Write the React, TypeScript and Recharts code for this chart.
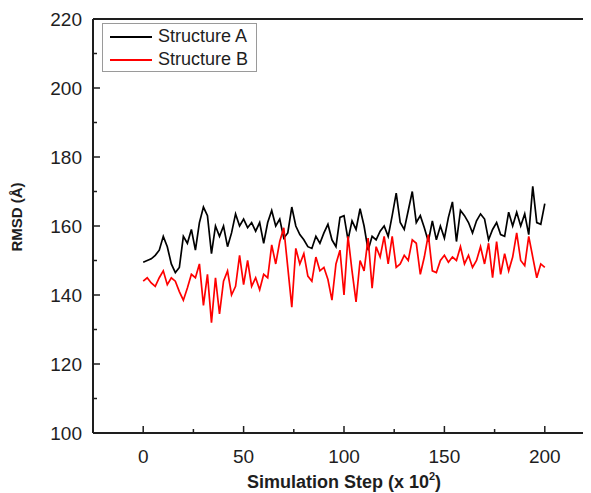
import { LineChart, Line, XAxis, YAxis, ReferenceLine, Legend } from 'recharts';

// RMSD sampled every 2 steps (x 10^2), steps 0..200
const STEP = 2;

const structureA = [
  149.5, 150, 150.5, 151.5, 153, 157, 154, 149, 146.5, 148,
  157, 155, 159, 153, 161, 165.5, 163, 152, 160, 157,
  160, 154, 158, 163.5, 160, 162, 159.5, 161, 158.5, 161,
  155, 161, 164.5, 160, 162, 156.5, 158, 165.5, 160, 157.5,
  156, 154, 153.5, 157, 155, 158, 160.5, 156, 154, 162.5,
  163, 156, 161.5, 159, 165, 160, 153, 157, 156, 158.5,
  160, 157, 163, 169.5, 161, 159, 164.5, 170, 161, 163,
  159.5, 155.5, 161.5, 156, 160, 156.5, 162.5, 167, 155.5, 164.5,
  163, 161, 158, 161.5, 163.5, 162, 156, 159, 161, 157.5,
  157, 164, 160, 164, 160, 163.5, 157.5, 171.5, 161, 160.5,
  166.5,
];

const structureB = [
  144, 145, 143.5, 142.5, 145, 147, 143, 145, 144, 141,
  138.5, 142, 146, 145, 149, 137, 146, 132, 145, 134.5,
  144, 147, 140, 142.5, 151.5, 143, 150, 142.5, 145, 141.5,
  146, 145, 154.5, 149, 155.5, 159.5, 148, 136.5, 153.5, 149,
  152, 145.5, 144, 151, 147, 148, 144.5, 138.5, 149, 153,
  140, 157, 147, 138, 150, 147, 156.5, 142, 154, 151,
  157, 149, 157, 148, 149, 151.5, 150, 156, 155, 146,
  151, 157.5, 147, 146.5, 150, 151.5, 149.5, 151, 150, 154,
  149, 151.5, 148, 150, 154, 149, 155, 145, 155.5, 146,
  152, 147, 151, 158, 150, 148.5, 157, 151, 145, 149,
  148,
];

const seriesNames = ['Structure A', 'Structure B'];
const seriesColors = ['#000000', '#ff0000'];

const xTicks = [-25, 0, 25, 50, 75, 100, 125, 150, 175, 200, 225];
const xLabels = [0, 50, 100, 150, 200];
const yTicks = [100, 110, 120, 130, 140, 150, 160, 170, 180, 190, 200, 210, 220];
const yLabels = [100, 120, 140, 160, 180, 200, 220];

const data = structureA.map((a, i) => ({ step: i * STEP, a, b: structureB[i] }));

const font = '"Liberation Sans", Arial, sans-serif';
const ink = '#1e1e1e';

const XTick = ({ x, y, payload }: any) => {
  const major = xLabels.includes(payload.value);
  return (
    <g>
      <line x1={x} x2={x} y1={y} y2={y - (major ? 7 : 4)} stroke={ink} strokeWidth={1.5} />
      {major && (
        <text x={x} y={y + 30} textAnchor="middle" fontSize={19} fontFamily={font} fill={ink}>
          {payload.value}
        </text>
      )}
    </g>
  );
};

const YTick = ({ x, y, payload }: any) => {
  const major = yLabels.includes(payload.value);
  return (
    <g>
      <line x1={x} x2={x + (major ? 7 : 4)} y1={y} y2={y} stroke={ink} strokeWidth={1.5} />
      {major && (
        <text x={x - 11} y={y + 7} textAnchor="end" fontSize={19} fontFamily={font} fill={ink}>
          {payload.value}
        </text>
      )}
    </g>
  );
};

const XTitle = ({ viewBox }: any) => (
  <text
    x={viewBox.x + viewBox.width / 2}
    y={viewBox.y + 55}
    textAnchor="middle"
    fontSize={18}
    fontWeight="bold"
    fontFamily={font}
    fill={ink}
  >
    Simulation Step (x 10
    <tspan fontSize={11} dy={-8}>2</tspan>
    <tspan dy={8}>)</tspan>
  </text>
);

const YTitle = () => (
  <text
    x={8}
    y={209}
    transform="rotate(-90 8 209)"
    textAnchor="middle"
    dominantBaseline="central"
    fontSize={15}
    fontWeight="bold"
    fontFamily={font}
    fill={ink}
  >
    RMSD (Å)
  </text>
);

const LegendBox = () => (
  <div
    style={{
      width: 155,
      boxSizing: 'border-box',
      border: '1px solid #9a9a9a',
      background: '#fff',
      padding: '1px 4px 0 7px',
      fontFamily: font,
      fontSize: 18,
      lineHeight: '23px',
      color: ink,
    }}
  >
    {seriesNames.map((name, i) => (
      <div key={name} style={{ display: 'flex', alignItems: 'center', whiteSpace: 'nowrap' }}>
        <span style={{ display: 'inline-block', width: 42, height: 2, background: seriesColors[i], marginRight: 6 }} />
        {name}
      </div>
    ))}
  </div>
);

export default function App() {
  return (
    <div style={{ width: 583, height: 485, overflow: 'hidden', position: 'relative' }}>
      <LineChart width={592} height={485} data={data} margin={{ top: 11, right: 5, left: 0, bottom: 0 }}>
        <XAxis
          dataKey="step"
          type="number"
          domain={[-25, 225]}
          ticks={xTicks}
          interval={0}
          tickSize={0}
          tickMargin={0}
          tickLine={false}
          tick={<XTick />}
          height={60}
          axisLine={{ stroke: ink, strokeWidth: 2 }}
          label={{ content: <XTitle /> }}
        />
        <YAxis
          type="number"
          domain={[100, 220]}
          ticks={yTicks}
          interval={0}
          tickSize={0}
          tickMargin={0}
          tickLine={false}
          tick={<YTick />}
          width={85}
          axisLine={{ stroke: ink, strokeWidth: 2 }}
          label={{ content: <YTitle /> }}
        />
        <ReferenceLine y={220} stroke={ink} strokeWidth={2} ifOverflow="visible" />
        <Legend
          layout="vertical"
          align="center"
          verticalAlign="middle"
          wrapperStyle={{ left: 94, top: 15, width: 155 }}
          content={<LegendBox />}
        />
        <Line type="linear" dataKey="a" name={seriesNames[0]} stroke={seriesColors[0]} strokeWidth={1.7} dot={false} isAnimationActive={false} />
        <Line type="linear" dataKey="b" name={seriesNames[1]} stroke={seriesColors[1]} strokeWidth={1.7} dot={false} isAnimationActive={false} />
      </LineChart>
    </div>
  );
}
